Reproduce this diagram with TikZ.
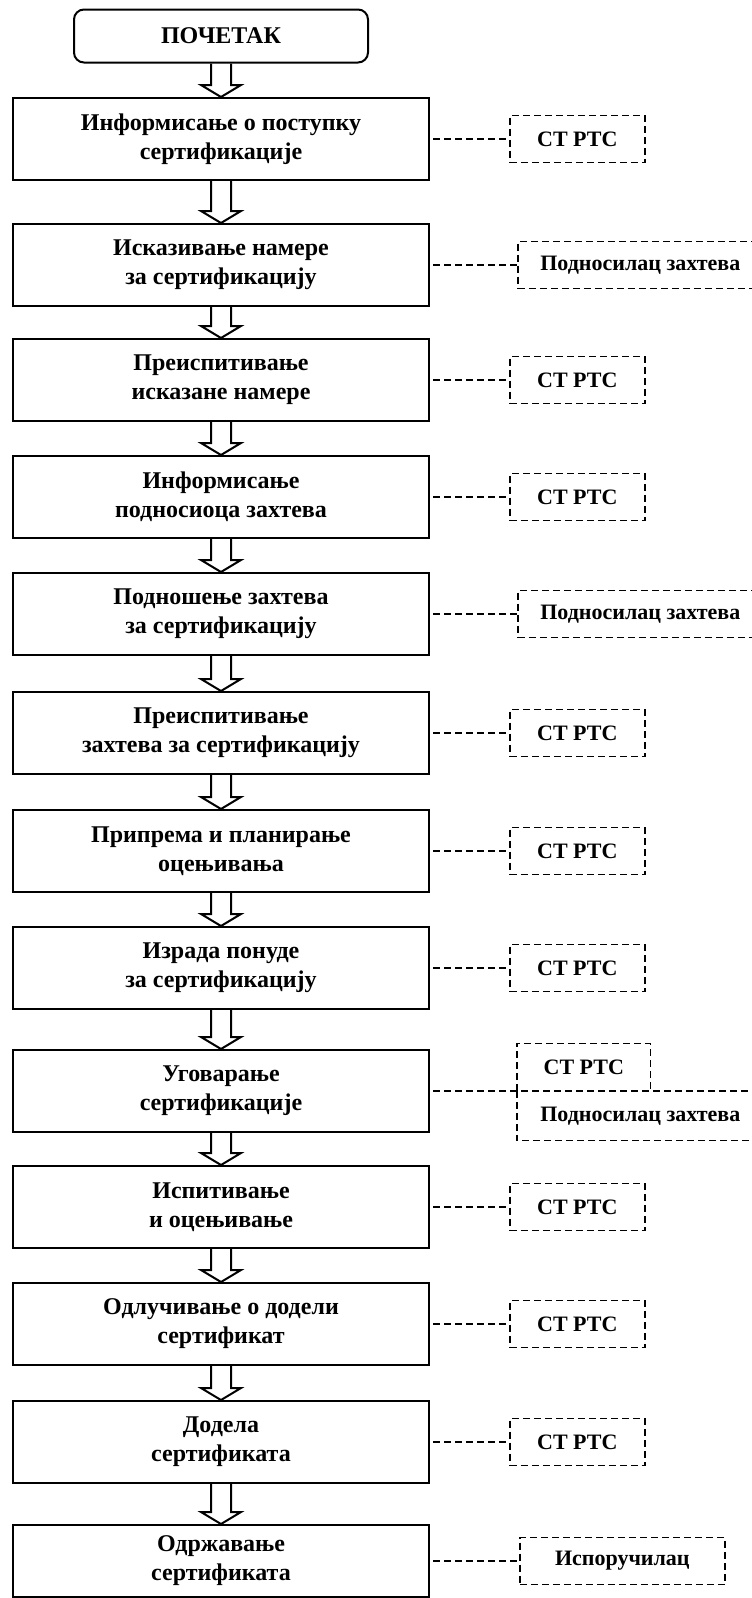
\documentclass[tikz,border=0pt]{standalone}
\usepackage{fontspec}
\setmainfont{Liberation Serif}
\usetikzlibrary{positioning, calc}

\begin{document}
\begin{tikzpicture}[x=1pt, y=-1pt,
    box/.style={draw, line width=2pt, minimum width=416pt, minimum height=82pt, align=center, inner sep=2pt, font=\bfseries\fontsize{24}{29}\selectfont},
    startbox/.style={box, rounded corners=10pt, minimum width=294pt, minimum height=53pt},
    who/.style={draw, dash pattern=on 7pt off 4pt, line width=1.6pt, minimum height=47pt, inner sep=2pt, font=\bfseries\fontsize{22}{28}\selectfont},
    ctbox/.style={who, minimum width=135pt},
    podbox/.style={who, minimum width=245pt},
    link/.style={dash pattern=on 7pt off 4pt, line width=1.6pt, shorten <=3pt},
    fatarrow/.style={draw, line width=2pt, line join=miter}
]
\useasboundingbox (0,0) rectangle (752,1598);
\clip (0,0) rectangle (752,1598);

\node[startbox] (s) at (221,36) {ПОЧЕТАК};

% koraci postupka
\foreach \i/\yy/\txt in {
    1/139/{Информисање о поступку\\сертификације},
    2/265/{Исказивање намере\\за сертификацију},
    3/380/{Преиспитивање\\исказане намере},
    4/497/{Информисање\\подносиоца захтева},
    5/614/{Подношење захтева\\за сертификацију},
    6/733/{Преиспитивање\\захтева за сертификацију},
    7/851/{Припрема и планирање\\оцењивања},
    8/968/{Израда понуде\\за сертификацију},
    9/1091/{Уговарање\\сертификације},
    10/1207/{Испитивање\\и оцењивање},
    11/1324/{Одлучивање о додели\\сертификат},
    12/1442/{Додела\\сертификата}}{
    \node[box] (b\i) at (221,\yy) {\txt};
}
\node[box, minimum height=72pt] (b13) at (221,1561) {Одржавање\\сертификата};

% strelice izmedju koraka
\foreach \u/\v in {s/b1,b1/b2,b2/b3,b3/b4,b4/b5,b5/b6,b6/b7,b7/b8,b8/b9,b9/b10,b10/b11,b11/b12,b12/b13}{
    \draw[fatarrow] let \p1=(\u.south), \p2=(\v.north) in
        (\x1-10pt,\y1) -- (\x1-10pt,\y2+12pt) -- (\x1-20pt,\y2+12pt) -- (\x2,\y2)
        -- (\x1+20pt,\y2+12pt) -- (\x1+10pt,\y2+12pt) -- (\x1+10pt,\y1);
}

% nosioci aktivnosti
\foreach \i in {1,3,4,6,7,8,10,11,12}{
    \node[ctbox, right=79pt of b\i] (r\i) {СТ РТС};
    \draw[link] (b\i.east) -- (r\i.west);
}
\foreach \i in {2,5}{
    \node[podbox, right=87pt of b\i] (r\i) {Подносилац захтева};
    \draw[link] (b\i.east) -- (r\i.west);
}
\node[who, minimum width=205pt, right=89pt of b13] (r13) {Испоручилац};
\draw[link] (b13.east) -- (r13.west);

% ugovaranje: dva nosioca
\coordinate (split) at ($(b9.east)+(87pt,0)$);
\node[ctbox, draw=none, anchor=south west, minimum width=132pt, minimum height=46pt] (r9a) at (split) {СТ РТС};
\node[podbox, draw=none, anchor=north west, minimum height=48pt] (r9b) at (split) {Подносилац захтева};
\draw[link, shorten <=0pt] (r9a.south west) -- (r9a.north west) -- (r9a.north east) -- (r9a.south east);
\draw[link, shorten <=0pt] (r9b.north west) -- (r9b.south west) -- (r9b.south east);
\coordinate (rim) at (b9.east -| r9b.east);
\draw[link] (b9.east) -- (rim);
\end{tikzpicture}
\end{document}
